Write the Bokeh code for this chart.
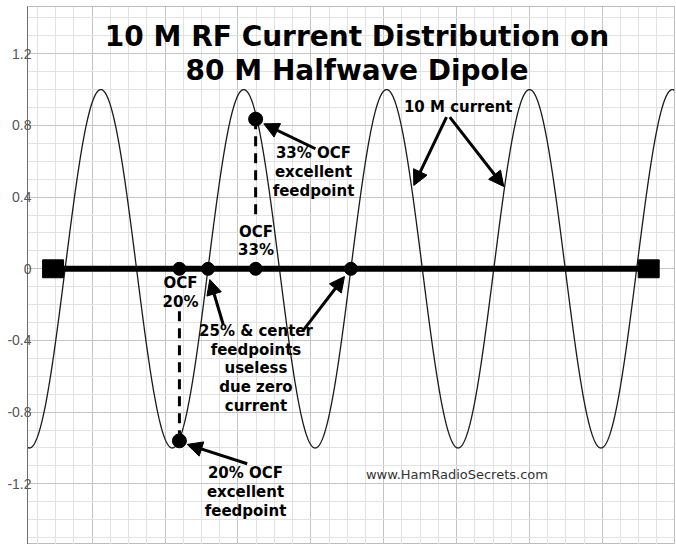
import numpy as np
from bokeh.plotting import figure
from bokeh.models import (FixedTicker, Range1d, LinearAxis, Arrow, NormalHead,
                          CustomJSTickFormatter, ColumnDataSource, Grid)
from bokeh.core.properties import value
from bokeh.embed import file_html
from bokeh.resources import INLINE

# ---------------- data ----------------
WAVE_AMPLITUDE = 1.0          # peak 10 m current (relative)
WAVE_LENGTH = 0.7843          # one 10 m wavelength in x units
DIPOLE_START = 0.2514         # left end of the 80 m dipole
DIPOLE_WAVELENGTHS = 4        # 10 m wavelengths along the dipole
FEED_FRACTIONS = [0.20, 0.25, 1 / 3, 0.50]      # feedpoints on the wire
CURVE_FEED_FRACTIONS = [0.20, 1 / 3]            # feedpoints marked on the curve
CURVE_FEED_CURRENT = [-0.96, 0.835]             # current read at those points
Y_TICKS = [-1.2, -0.8, -0.4, 0.0, 0.4, 0.8, 1.2]
Y_TICK_LABELS = ["-1.2", "-0.8", "-0.4", "0", "0.4", "0.8", "1.2"]
TITLE_LINES = ["10 M RF Current Distribution on", "80 M Halfwave Dipole"]
LABELS = ["10 M current",
          "33% OCF\nexcellent\nfeedpoint",
          "OCF\n33%",
          "OCF\n20%",
          "25% & center\nfeedpoints\nuseless\ndue zero\ncurrent",
          "20% OCF\nexcellent\nfeedpoint"]
WATERMARK = "www.HamRadioSecrets.com"

# ---------------- derived ----------------
dipole_len = DIPOLE_WAVELENGTHS * WAVE_LENGTH
dipole_end = DIPOLE_START + dipole_len


def current(x):
    return WAVE_AMPLITUDE * np.sin(2 * np.pi * (np.asarray(x) - DIPOLE_START) / WAVE_LENGTH)


X0, X1 = 0.045, 3.5961
Y0, Y1 = -1.5385, 1.4637

p = figure(width=676, height=544, output_backend="svg", toolbar_location=None,
           x_range=Range1d(X0, X1), y_range=Range1d(Y0, Y1),
           x_axis_location=None, y_axis_location=None,
           min_border_left=27, min_border_right=2, min_border_top=6, min_border_bottom=0,
           background_fill_color="white", border_fill_color="white")
p.outline_line_color = "#bdbdbd"

# grids: major every 0.4, minor every 0.1
x_major = [round(0.4 * k, 4) for k in range(0, 10)]
x_minor = [round(0.1 * k, 4) for k in range(0, 37) if k % 4]
y_major = [round(0.4 * k, 4) for k in range(-4, 5)]
y_minor = [round(0.1 * k, 4) for k in range(-16, 17) if k % 4]
for dim, mj, mn in ((0, x_major, x_minor), (1, y_major, y_minor)):
    g = Grid(dimension=dim, ticker=FixedTicker(ticks=mj, minor_ticks=mn),
             grid_line_color="#c4c4c4", grid_line_width=1,
             minor_grid_line_color="#e2e2e2", minor_grid_line_width=1)
    p.add_layout(g)

yaxis = LinearAxis(
    ticker=FixedTicker(ticks=Y_TICKS),
    formatter=CustomJSTickFormatter(
        args=dict(vals=Y_TICKS, labels=Y_TICK_LABELS),
        code="const i = vals.findIndex(v => Math.abs(v - tick) < 1e-9); return i >= 0 ? labels[i] : '';"),
    major_tick_in=0, major_tick_out=0, minor_tick_in=0, minor_tick_out=0,
    major_tick_line_color=None, minor_tick_line_color=None,
    axis_line_color="#6e6e6e", axis_line_width=1,
    major_label_text_font="Liberation Sans", major_label_text_font_size="14px",
    major_label_text_color="#555555", major_label_standoff=-4)
p.add_layout(yaxis, "left")

# 10 m current wave
xs = np.linspace(X0, X1, 1400)
p.line(xs, current(xs), line_color="#1a1a1a", line_width=1.3)

# dipole wire with end caps
p.line([DIPOLE_START - 0.066, dipole_end + 0.066], [0, 0], line_color="black", line_width=6)
p.rect(x=[DIPOLE_START - 0.066, dipole_end + 0.066], y=[0, 0], width=0.115, height=0.1,
       fill_color="black", line_color="black")

# feedpoints on the wire
fx = [DIPOLE_START + f * dipole_len for f in FEED_FRACTIONS]
p.scatter(fx, [0] * len(fx), size=13, fill_color="black", line_color="black")

# feedpoints on the current curve + dashed drop lines
cx = [DIPOLE_START + f * dipole_len for f in CURVE_FEED_FRACTIONS]
cy = CURVE_FEED_CURRENT
p.segment(x0=[cx[0], cx[1]], y0=[-0.237, cy[1]], x1=[cx[0], cx[1]], y1=[cy[0], 0.279],
          line_color="black", line_width=3, line_dash="10 7")
p.scatter(cx, cy, size=14, fill_color="black", line_color="black")

# arrows
arrows = ColumnDataSource(dict(
    x0=[2.3447, 2.3628, 1.6257, 1.1191, 1.5615, 1.2508],
    y0=[0.846, 0.846, 0.670, -0.311, -0.339, -1.088],
    x1=[2.1652, 2.6592, 1.3419, 1.0456, 1.7849, 0.9215],
    y1=[0.465, 0.459, 0.809, -0.060, -0.043, -0.980],
))
p.add_layout(Arrow(source=arrows, x_start="x0", y_start="y0", x_end="x1", y_end="y1",
                   line_color="black", line_width=3,
                   end=NormalHead(size=15, fill_color="black", line_color="black", line_width=1)))

# title
p.text(x=[1.8535, 1.8535], y=[1.299, 1.108], text=TITLE_LINES,
       text_font=value("DejaVu Sans"), text_font_style="bold", text_font_size="28px",
       text_color="black", text_align="center", text_baseline="middle")

# annotation labels
p.text(x=[2.409, 1.6147, 1.299, 0.8847, 1.299, 1.2415],
       y=[0.902, 0.540, 0.155, -0.132, -0.556, -1.2455],
       text=LABELS,
       text_font=value("DejaVu Sans"), text_font_style="bold", text_font_size="15px",
       text_color="black", text_align="center", text_baseline="middle", text_line_height=1.05)

p.text(x=[2.402], y=[-1.148], text=[WATERMARK],
       text_font=value("DejaVu Sans"), text_font_size="13px", text_color="#333333",
       text_align="center", text_baseline="middle")

open("out.html", "w").write(file_html(p, INLINE))
